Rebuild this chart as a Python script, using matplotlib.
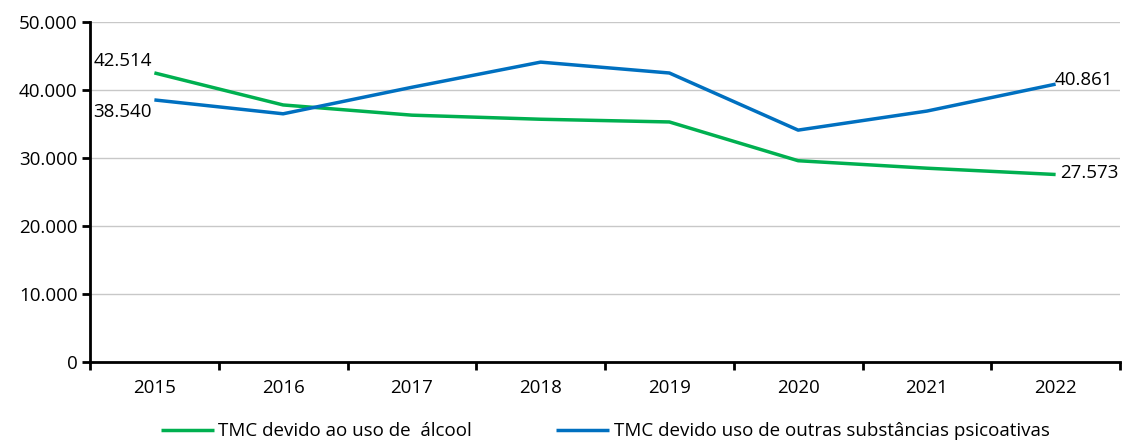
import matplotlib
matplotlib.use("Agg")
import matplotlib.pyplot as plt
from matplotlib.ticker import FuncFormatter

years = ["2015", "2016", "2017", "2018", "2019", "2020", "2021", "2022"]
alcool = [42514, 37800, 36300, 35700, 35300, 29600, 28500, 27573]
outras = [38540, 36500, 40400, 44100, 42500, 34100, 36900, 40861]
label_alcool = "TMC devido ao uso de  álcool"
label_outras = "TMC devido uso de outras substâncias psicoativas"

plt.rcParams['font.family'] = ['Open Sans', 'DejaVu Sans']
FS = 13.5

fig = plt.figure(figsize=(11.23, 4.41), dpi=100)
ax = fig.add_axes([90/1123, 1-362/441, 1030/1123, 340/441])

x = list(range(len(years)))
green = "#00B050"
blue = "#0070C0"
ax.plot(x, alcool, color=green, lw=2.5, label=label_alcool, solid_capstyle='butt')
ax.plot(x, outras, color=blue, lw=2.5, label=label_outras, solid_capstyle='butt')

ax.set_xlim(-0.5, len(years) - 0.5)
ax.set_ylim(0, 50000)
ax.set_yticks(range(0, 50001, 10000))
ax.yaxis.set_major_formatter(FuncFormatter(lambda v, p: f"{int(v):,}".replace(",", ".")))
ax.set_xticks(x)
ax.set_xticklabels(years)
ax.set_xticks([i - 0.5 for i in range(len(years) + 1)], minor=True)
ax.tick_params(axis='x', which='major', length=0, pad=12, labelsize=FS)
ax.tick_params(axis='x', which='minor', length=6, width=2, direction='out')
ax.tick_params(axis='y', length=6, width=2, direction='out', labelsize=FS, pad=3)

ax.grid(axis='y', color='#c8c8c8', lw=1)
ax.set_axisbelow(True)
for s in ['top', 'right']:
    ax.spines[s].set_visible(False)
ax.spines['left'].set_linewidth(2)
ax.spines['bottom'].set_linewidth(2)

def fmt(v):
    return f"{v:,}".replace(",", ".")

ax.annotate(fmt(alcool[0]), (x[0], alcool[0]), xytext=(-44, 2), textcoords='offset points', fontsize=FS, va='bottom')
ax.annotate(fmt(outras[0]), (x[0], outras[0]), xytext=(-44, -2), textcoords='offset points', fontsize=FS, va='top')
ax.annotate(fmt(outras[-1]), (x[-1], outras[-1]), xytext=(-1, 3), textcoords='offset points', fontsize=FS, va='center', ha='left')
ax.annotate(fmt(alcool[-1]), (x[-1], alcool[-1]), xytext=(3, 1), textcoords='offset points', fontsize=FS, va='center', ha='left')

leg = fig.legend(loc='lower center', bbox_to_anchor=(0.539, -0.037), ncol=2, frameon=False,
                 fontsize=FS, handlelength=2.8, handletextpad=0.25, columnspacing=4.5)

fig.savefig("out.png", dpi=100)
